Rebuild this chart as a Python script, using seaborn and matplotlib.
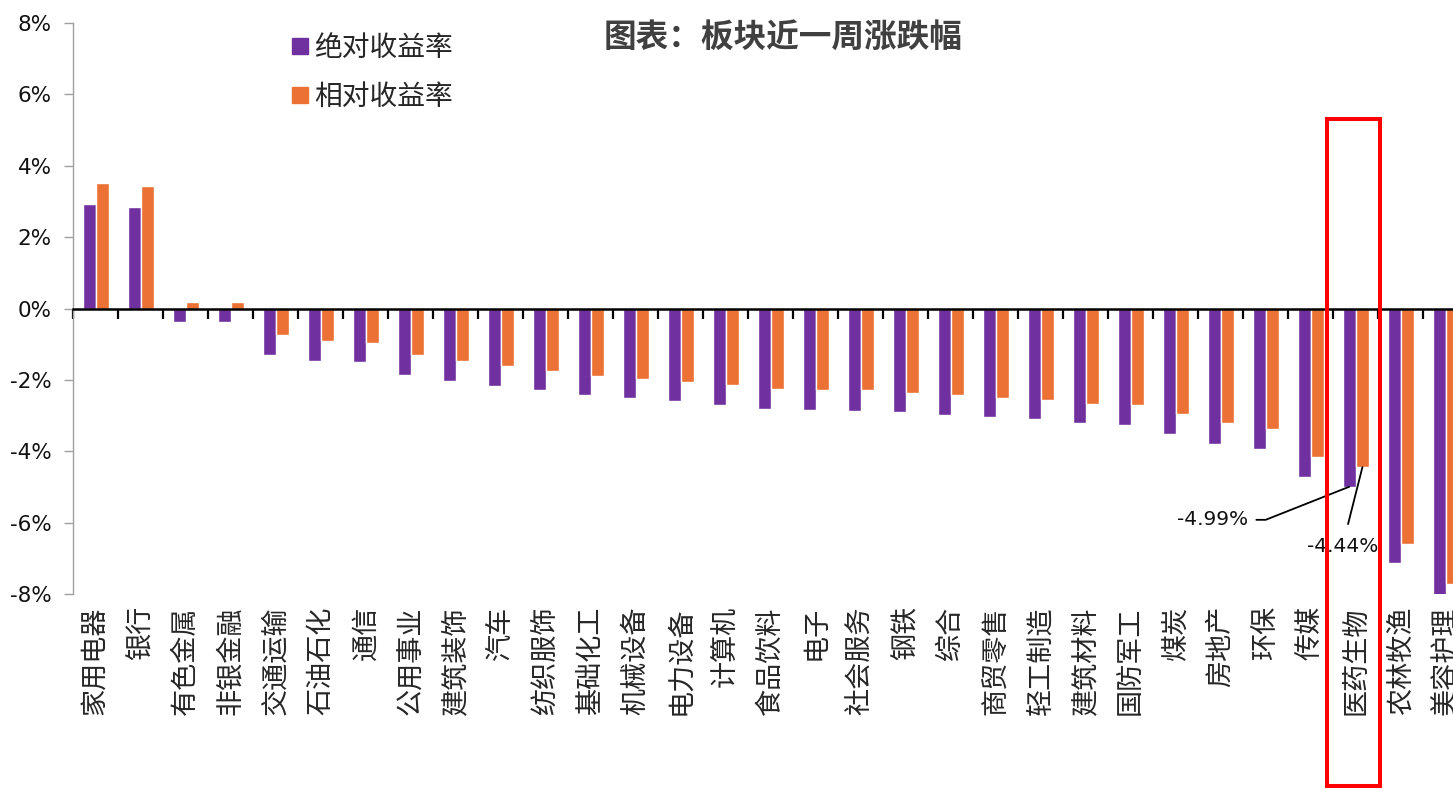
import numpy as np
import pandas as pd
import matplotlib
matplotlib.use("Agg")
import matplotlib.pyplot as plt
import matplotlib.transforms as mtransforms
from matplotlib.lines import Line2D
from matplotlib.patches import Rectangle
from matplotlib.ticker import FuncFormatter, FixedLocator
import seaborn as sns

# 申万一级行业近一周涨跌幅（%）
sectors = ["家用电器", "银行", "有色金属", "非银金融", "交通运输", "石油石化", "通信",
           "公用事业", "建筑装饰", "汽车", "纺织服饰", "基础化工", "机械设备", "电力设备",
           "计算机", "食品饮料", "电子", "社会服务", "钢铁", "综合", "商贸零售", "轻工制造",
           "建筑材料", "国防军工", "煤炭", "房地产", "环保", "传媒", "医药生物", "农林牧渔",
           "美容护理"]
abs_ret = [2.93, 2.85, -0.39, -0.39, -1.31, -1.48, -1.51, -1.86, -2.02, -2.16, -2.29,
           -2.43, -2.50, -2.60, -2.70, -2.80, -2.84, -2.87, -2.91, -2.98, -3.04, -3.10,
           -3.21, -3.27, -3.51, -3.79, -3.92, -4.73, -4.99, -7.13, -8.02]
rel_ret = [3.50, 3.43, 0.18, 0.18, -0.73, -0.91, -0.97, -1.31, -1.48, -1.62, -1.75,
           -1.89, -1.96, -2.06, -2.13, -2.26, -2.29, -2.29, -2.37, -2.43, -2.50, -2.56,
           -2.67, -2.70, -2.94, -3.21, -3.38, -4.16, -4.44, -6.59, -7.71]
series = ["绝对收益率", "相对收益率"]
colors = ["#7030A0", "#EB7134"]
y_ticks = [-8, -6, -4, -2, 0, 2, 4, 6, 8]
highlight = "医药生物"

df = pd.DataFrame({
    "板块": sectors * 2,
    "收益率": abs_ret + rel_ret,
    "系列": [series[0]] * len(sectors) + [series[1]] * len(sectors),
})

sns.set_style("white")
plt.rcParams["font.family"] = ["DejaVu Sans", "Noto Sans CJK SC"]
CJK = ["Noto Sans CJK SC", "DejaVu Sans"]

fig = plt.figure(figsize=(14.53, 7.89), dpi=100)
W, H = 1453, 789
ax = fig.add_axes([73.3 / W, 1 - 594.3 / H, (W - 73.3) / W, (594.3 - 22.7) / H])

sns.barplot(data=df, x="板块", y="收益率", hue="系列", order=sectors, hue_order=series,
            palette=colors, width=0.59, saturation=1, legend=False, ax=ax)

n = len(sectors)
ax.set_xlabel("")
ax.set_ylabel("")

# y axis
ax.set_yticks(y_ticks)
ax.yaxis.set_major_formatter(FuncFormatter(lambda v, _: f"{v:.0f}%"))
ax.tick_params(axis="y", direction="out", length=6.5, width=1.0, color="#A0A0A0",
               pad=9, labelsize=15.5, labelcolor="#111111", left=True)
for s in ("top", "right"):
    ax.spines[s].set_visible(False)
ax.spines["left"].set_color("#A0A0A0")
ax.spines["left"].set_linewidth(1.0)

# zero line with separator ticks between sectors
ax.spines["bottom"].set_position(("data", 0))
ax.spines["bottom"].set_color("black")
ax.spines["bottom"].set_linewidth(1.8)
ax.spines["bottom"].set_zorder(5)
ax.xaxis.set_major_locator(FixedLocator(np.arange(-0.5, n, 1.0)))
ax.xaxis.set_major_formatter(FuncFormatter(lambda v, _: ""))
ax.tick_params(axis="x", direction="out", length=7, width=1.6, color="black", bottom=True)

# sector names along the bottom edge
sec = ax.secondary_xaxis(0)
sec.xaxis.set_major_locator(FixedLocator(range(n)))
sec.xaxis.set_major_formatter(FuncFormatter(lambda v, _: sectors[int(round(v))]
                                            if 0 <= round(v) < n else ""))
sec.tick_params(axis="x", length=0, pad=8.5, labelrotation=90, labelsize=19.5)
sec.spines["bottom"].set_visible(False)

# value call-outs for the highlighted sector
i = sectors.index(highlight)
bw = 0.59 / 2
ax.annotate(f"{abs_ret[i]:.2f}%", xy=(i - bw / 2, abs_ret[i]), xytext=(-72.7, -23.8),
            textcoords="offset points", ha="right", va="center", fontsize=14.5,
            color="#111111",
            arrowprops=dict(arrowstyle="-", color="black", lw=1.3, shrinkA=3.5, shrinkB=0,
                            connectionstyle="angle,angleA=0,angleB=21.6,rad=0"))
ax.annotate(f"{rel_ret[i]:.2f}%", xy=(i + bw / 2, rel_ret[i]), xytext=(-14.4, -57),
            textcoords="offset points", ha="center", va="center", fontsize=14.5,
            color="#111111",
            arrowprops=dict(arrowstyle="-", color="black", lw=1.3, shrinkA=7, shrinkB=0))

# highlight frame around the sector column
trans = mtransforms.blended_transform_factory(ax.transData, fig.transFigure)
ax.add_patch(Rectangle((i - 0.64, 3 / H), 1.18, (786 - 119) / H, transform=trans,
                       fill=False, edgecolor="#FF0000", lw=2.9, clip_on=False, zorder=10))

# legend
handles = [Line2D([], [], marker="s", ls="", markersize=11.5, color=c) for c in colors]
fig.legend(handles, series, loc="upper left", bbox_to_anchor=(289 / W, 1 - 33 / H),
           frameon=False, handlelength=0.8, handletextpad=0.1, borderaxespad=0,
           borderpad=0, labelspacing=0.68, prop={"family": CJK, "size": 20})

fig.text(783 / W, 1 - 37 / H, "图表：板块近一周涨跌幅", ha="center", va="center",
         fontsize=23.5, fontweight="bold", color="#404040", family=CJK)

for lab in sec.get_xticklabels():
    lab.set_family(CJK)

# the last sector runs past the right edge of the figure
ax.set_xlim(-0.5, -0.5 + (W - 73.3) / 45)
ax.set_ylim(-8, 8)

fig.savefig("out.png", dpi=100)
